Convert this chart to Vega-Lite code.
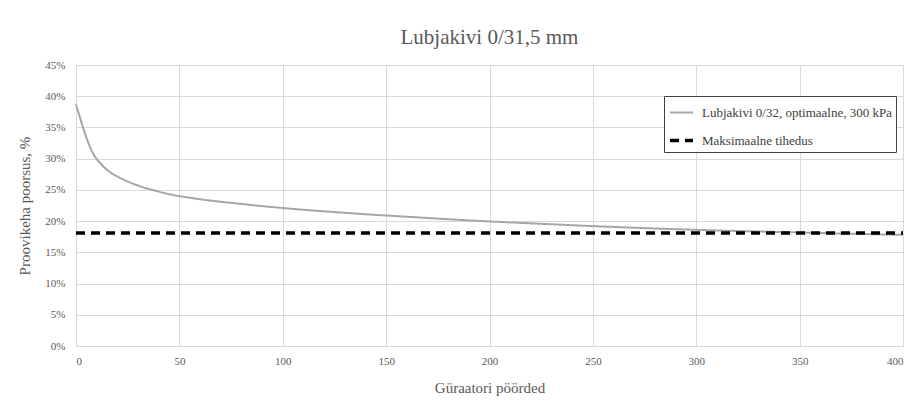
{
  "$schema": "https://vega.github.io/schema/vega-lite/v6.json",
  "width": 827,
  "height": 281,
  "autosize": "none",
  "padding": {"left": 76, "top": 65, "right": 16, "bottom": 59},
  "background": "white",
  "title": {
    "text": "Lubjakivi 0/31,5 mm",
    "font": "Liberation Serif",
    "fontSize": 21,
    "fontWeight": "normal",
    "color": "#595959",
    "anchor": "middle",
    "offset": 11
  },
  "data": {
    "values": [
      {"n": 0, "v": 38.7, "s": "Lubjakivi 0/32, optimaalne, 300 kPa"},
      {"n": 1, "v": 37.6, "s": "Lubjakivi 0/32, optimaalne, 300 kPa"},
      {"n": 2, "v": 36.5, "s": "Lubjakivi 0/32, optimaalne, 300 kPa"},
      {"n": 3, "v": 35.4, "s": "Lubjakivi 0/32, optimaalne, 300 kPa"},
      {"n": 4, "v": 34.4, "s": "Lubjakivi 0/32, optimaalne, 300 kPa"},
      {"n": 5, "v": 33.4, "s": "Lubjakivi 0/32, optimaalne, 300 kPa"},
      {"n": 6, "v": 32.5, "s": "Lubjakivi 0/32, optimaalne, 300 kPa"},
      {"n": 7, "v": 31.7, "s": "Lubjakivi 0/32, optimaalne, 300 kPa"},
      {"n": 8, "v": 31.0, "s": "Lubjakivi 0/32, optimaalne, 300 kPa"},
      {"n": 9, "v": 30.4, "s": "Lubjakivi 0/32, optimaalne, 300 kPa"},
      {"n": 10, "v": 29.95, "s": "Lubjakivi 0/32, optimaalne, 300 kPa"},
      {"n": 12, "v": 29.2, "s": "Lubjakivi 0/32, optimaalne, 300 kPa"},
      {"n": 14, "v": 28.5, "s": "Lubjakivi 0/32, optimaalne, 300 kPa"},
      {"n": 16, "v": 27.95, "s": "Lubjakivi 0/32, optimaalne, 300 kPa"},
      {"n": 18, "v": 27.5, "s": "Lubjakivi 0/32, optimaalne, 300 kPa"},
      {"n": 20, "v": 27.15, "s": "Lubjakivi 0/32, optimaalne, 300 kPa"},
      {"n": 23, "v": 26.65, "s": "Lubjakivi 0/32, optimaalne, 300 kPa"},
      {"n": 26, "v": 26.2, "s": "Lubjakivi 0/32, optimaalne, 300 kPa"},
      {"n": 30, "v": 25.7, "s": "Lubjakivi 0/32, optimaalne, 300 kPa"},
      {"n": 34, "v": 25.25, "s": "Lubjakivi 0/32, optimaalne, 300 kPa"},
      {"n": 38, "v": 24.9, "s": "Lubjakivi 0/32, optimaalne, 300 kPa"},
      {"n": 42, "v": 24.55, "s": "Lubjakivi 0/32, optimaalne, 300 kPa"},
      {"n": 46, "v": 24.25, "s": "Lubjakivi 0/32, optimaalne, 300 kPa"},
      {"n": 50, "v": 24.0, "s": "Lubjakivi 0/32, optimaalne, 300 kPa"},
      {"n": 55, "v": 23.75, "s": "Lubjakivi 0/32, optimaalne, 300 kPa"},
      {"n": 60, "v": 23.5, "s": "Lubjakivi 0/32, optimaalne, 300 kPa"},
      {"n": 70, "v": 23.1, "s": "Lubjakivi 0/32, optimaalne, 300 kPa"},
      {"n": 80, "v": 22.75, "s": "Lubjakivi 0/32, optimaalne, 300 kPa"},
      {"n": 90, "v": 22.4, "s": "Lubjakivi 0/32, optimaalne, 300 kPa"},
      {"n": 100, "v": 22.1, "s": "Lubjakivi 0/32, optimaalne, 300 kPa"},
      {"n": 110, "v": 21.82, "s": "Lubjakivi 0/32, optimaalne, 300 kPa"},
      {"n": 120, "v": 21.57, "s": "Lubjakivi 0/32, optimaalne, 300 kPa"},
      {"n": 130, "v": 21.33, "s": "Lubjakivi 0/32, optimaalne, 300 kPa"},
      {"n": 140, "v": 21.1, "s": "Lubjakivi 0/32, optimaalne, 300 kPa"},
      {"n": 150, "v": 20.9, "s": "Lubjakivi 0/32, optimaalne, 300 kPa"},
      {"n": 165, "v": 20.6, "s": "Lubjakivi 0/32, optimaalne, 300 kPa"},
      {"n": 180, "v": 20.3, "s": "Lubjakivi 0/32, optimaalne, 300 kPa"},
      {"n": 200, "v": 19.95, "s": "Lubjakivi 0/32, optimaalne, 300 kPa"},
      {"n": 225, "v": 19.57, "s": "Lubjakivi 0/32, optimaalne, 300 kPa"},
      {"n": 250, "v": 19.2, "s": "Lubjakivi 0/32, optimaalne, 300 kPa"},
      {"n": 275, "v": 18.88, "s": "Lubjakivi 0/32, optimaalne, 300 kPa"},
      {"n": 300, "v": 18.6, "s": "Lubjakivi 0/32, optimaalne, 300 kPa"},
      {"n": 325, "v": 18.38, "s": "Lubjakivi 0/32, optimaalne, 300 kPa"},
      {"n": 350, "v": 18.18, "s": "Lubjakivi 0/32, optimaalne, 300 kPa"},
      {"n": 375, "v": 17.98, "s": "Lubjakivi 0/32, optimaalne, 300 kPa"},
      {"n": 400, "v": 17.8, "s": "Lubjakivi 0/32, optimaalne, 300 kPa"},
      {"n": 0, "v": 18.1, "s": "Maksimaalne tihedus"},
      {"n": 400, "v": 18.1, "s": "Maksimaalne tihedus"}
    ]
  },
  "mark": {"type": "line", "interpolate": "monotone"},
  "encoding": {
    "x": {
      "field": "n",
      "type": "quantitative",
      "scale": {"domain": [0, 400], "nice": false},
      "axis": {
        "values": [0, 50, 100, 150, 200, 250, 300, 350, 400],
        "title": "Güraatori pöörded",
        "titleFont": "Liberation Serif",
        "titleFontSize": 15,
        "titleFontWeight": "normal",
        "titleColor": "#595959",
        "titlePadding": 14,
        "labelFont": "Liberation Serif",
        "labelFontSize": 11,
        "labelColor": "#595959",
        "labelPadding": 9,
        "ticks": false,
        "domain": false,
        "grid": true,
        "gridColor": "#d9d9d9",
        "gridWidth": 1
      }
    },
    "y": {
      "field": "v",
      "type": "quantitative",
      "scale": {"domain": [0, 45], "nice": false},
      "axis": {
        "values": [0, 5, 10, 15, 20, 25, 30, 35, 40, 45],
        "labelExpr": "datum.value + '%'",
        "title": "Proovikeha poorsus, %",
        "titleFont": "Liberation Serif",
        "titleFontSize": 15,
        "titleFontWeight": "normal",
        "titleColor": "#595959",
        "titlePadding": 12,
        "labelFont": "Liberation Serif",
        "labelFontSize": 11,
        "labelColor": "#595959",
        "labelPadding": 11,
        "ticks": false,
        "domain": false,
        "grid": true,
        "gridColor": "#d9d9d9",
        "gridWidth": 1
      }
    },
    "color": {
      "field": "s",
      "type": "nominal",
      "scale": {
        "domain": ["Lubjakivi 0/32, optimaalne, 300 kPa", "Maksimaalne tihedus"],
        "range": ["#a6a6a6", "#000000"]
      },
      "legend": {
        "title": null,
        "orient": "none",
        "legendX": 588,
        "legendY": 31,
        "direction": "vertical",
        "strokeColor": "#404040",
        "fillColor": "white",
        "padding": 4,
        "rowPadding": 7,
        "symbolType": "stroke",
        "symbolSize": 529,
        "symbolStrokeWidth": 2.5,
        "labelFont": "Liberation Serif",
        "labelFontSize": 13,
        "labelLimit": 400,
        "labelColor": "#404040",
        "labelOffset": 7
      }
    },
    "strokeDash": {
      "field": "s",
      "type": "nominal",
      "scale": {
        "domain": ["Lubjakivi 0/32, optimaalne, 300 kPa", "Maksimaalne tihedus"],
        "range": [[1, 0], [9, 6]]
      },
      "legend": {
        "title": null,
        "orient": "none",
        "legendX": 588,
        "legendY": 31,
        "direction": "vertical",
        "strokeColor": "#404040",
        "fillColor": "white",
        "padding": 4,
        "rowPadding": 7,
        "symbolType": "stroke",
        "symbolSize": 529,
        "symbolStrokeWidth": 2.5,
        "labelFont": "Liberation Serif",
        "labelFontSize": 13,
        "labelLimit": 400,
        "labelColor": "#404040",
        "labelOffset": 7
      }
    },
    "strokeWidth": {
      "field": "s",
      "type": "nominal",
      "scale": {
        "domain": ["Lubjakivi 0/32, optimaalne, 300 kPa", "Maksimaalne tihedus"],
        "range": [2, 3.5]
      },
      "legend": null
    }
  },
  "config": {
    "font": "Liberation Serif",
    "view": {"stroke": null}
  }
}
